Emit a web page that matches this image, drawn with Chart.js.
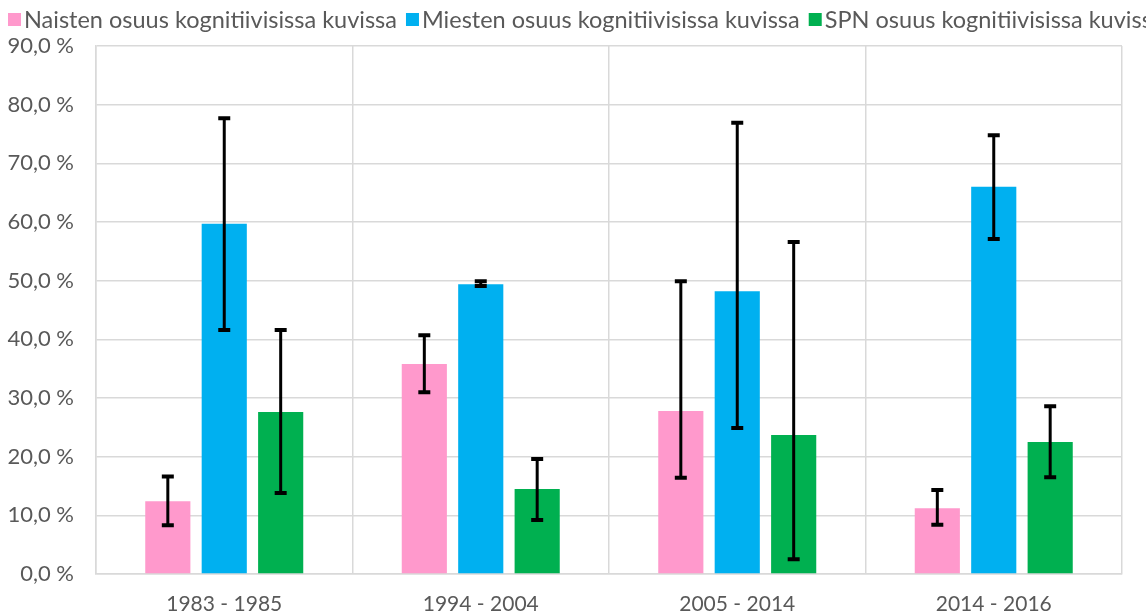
<!DOCTYPE html>
<html>
<head>
<meta charset="utf-8">
<script src="https://cdn.jsdelivr.net/npm/chart.js@4"></script>
<style>
  html, body { margin: 0; padding: 0; background: #fff; }
  #wrap { width: 1146px; height: 616px; }
</style>
</head>
<body>
<div id="wrap"><canvas id="chart" width="1146" height="616"></canvas></div>
<script>
// =========================
// DATA
// =========================
const periods = ["1983 - 1985", "1994 - 2004", "2005 - 2014", "2014 - 2016"];

const naistenValues = [12.4, 35.8, 27.8, 11.2];
const naistenLow    = [8.3, 31.0, 16.4, 8.4];
const naistenHigh   = [16.6, 40.7, 49.9, 14.3];

const miestenValues = [59.7, 49.4, 48.2, 66.0];
const miestenLow    = [41.6, 49.1, 24.9, 57.1];
const miestenHigh   = [77.7, 49.9, 76.9, 74.8];

const spnValues = [27.6, 14.5, 23.7, 22.5];
const spnLow    = [13.8, 9.2, 2.5, 16.5];
const spnHigh   = [41.6, 19.6, 56.6, 28.6];

const yTicks = [0, 10, 20, 30, 40, 50, 60, 70, 80, 90];

const FONT = "Lato, 'Open Sans', sans-serif";
const TEXT = "#595959";
const GRID = "#d9d9d9";

// =========================
// ERROR BARS (drawn from y scale)
// =========================
const errorBars = {
    id: "errorBars",
    afterDatasetsDraw(chart) {
        const ctx = chart.ctx;
        const y = chart.scales.y;
        chart.data.datasets.forEach((ds, i) => {
            const meta = chart.getDatasetMeta(i);
            meta.data.forEach((bar, j) => {
                const top = y.getPixelForValue(ds.errHigh[j]);
                const bot = y.getPixelForValue(ds.errLow[j]);
                const x = bar.x;
                ctx.save();
                ctx.strokeStyle = "#000";
                ctx.lineWidth = 3;
                ctx.beginPath();
                ctx.moveTo(x, top);
                ctx.lineTo(x, bot);
                ctx.stroke();
                ctx.lineWidth = 4;
                ctx.beginPath();
                ctx.moveTo(x - 6, top);
                ctx.lineTo(x + 6, top);
                ctx.moveTo(x - 6, bot);
                ctx.lineTo(x + 6, bot);
                ctx.stroke();
                ctx.restore();
            });
        });
    }
};

// =========================
// LEGEND (single row, runs off the right edge)
// =========================
const topLegend = {
    id: "topLegend",
    afterDraw(chart) {
        const ctx = chart.ctx;
        ctx.save();
        ctx.font = `23.5px ${FONT}`;
        ctx.textBaseline = "middle";
        let x = 8;
        const yMid = 19;
        chart.data.datasets.forEach(ds => {
            ctx.fillStyle = ds.backgroundColor;
            ctx.fillRect(x, yMid - 6, 13, 13);
            x += 16;
            ctx.fillStyle = TEXT;
            ctx.fillText(ds.label, x, yMid + 1);
            x += ctx.measureText(ds.label).width + 9;
        });
        ctx.restore();
    }
};

new Chart(document.getElementById("chart"), {
    type: "bar",
    data: {
        labels: periods,
        datasets: [
            {
                label: "Naisten osuus kognitiivisissa kuvissa",
                data: naistenValues,
                errLow: naistenLow,
                errHigh: naistenHigh,
                backgroundColor: "#FF99CC"
            },
            {
                label: "Miesten osuus kognitiivisissa kuvissa",
                data: miestenValues,
                errLow: miestenLow,
                errHigh: miestenHigh,
                backgroundColor: "#00B0F0"
            },
            {
                label: "SPN osuus kognitiivisissa kuvissa",
                data: spnValues,
                errLow: spnLow,
                errHigh: spnHigh,
                backgroundColor: "#00B050"
            }
        ]
    },
    options: {
        responsive: false,
        animation: false,
        layout: { padding: { top: 46, right: 24, left: 0, bottom: 0 } },
        categoryPercentage: 0.66,
        barPercentage: 0.8,
        plugins: {
            legend: { display: false },
            tooltip: { enabled: false }
        },
        scales: {
            x: {
                grid: { color: GRID, lineWidth: 1.5, drawTicks: false, offset: true },
                border: { color: GRID, width: 1.5 },
                ticks: { color: TEXT, font: { family: FONT, size: 21 }, padding: 18 },
                afterFit(scale) { scale.height = 42; }
            },
            y: {
                min: 0,
                max: 90,
                afterBuildTicks(scale) {
                    scale.ticks = yTicks.map(v => ({ value: v }));
                },
                grid: { color: GRID, lineWidth: 1.5, drawTicks: false },
                border: { color: GRID, width: 1.5 },
                ticks: {
                    color: TEXT,
                    font: { family: FONT, size: 22 },
                    padding: 22,
                    callback: v => v.toFixed(1).replace(".", ",") + " %"
                },
                afterFit(scale) { scale.width = 96; }
            }
        }
    },
    plugins: [errorBars, topLegend]
});
</script>
</body>
</html>
